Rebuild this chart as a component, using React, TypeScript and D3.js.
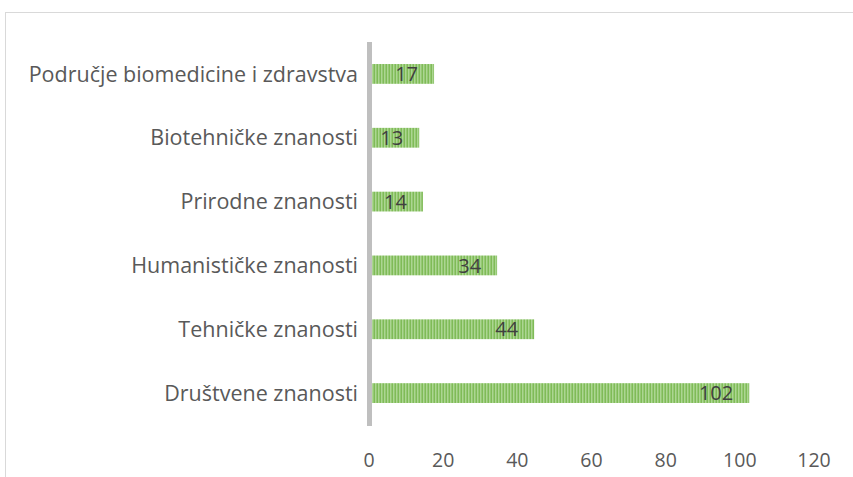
import React, { useEffect, useRef } from "react";
import * as d3 from "d3";

// categories top to bottom
const categories = [
  "Područje biomedicine i zdravstva",
  "Biotehničke znanosti",
  "Prirodne znanosti",
  "Humanističke znanosti",
  "Tehničke znanosti",
  "Društvene znanosti",
];
const values = [17, 13, 14, 34, 44, 102];
const ticks = [0, 20, 40, 60, 80, 100, 120];

const WIDTH = 853;
const HEIGHT = 477;

export default function App() {
  const svgRef = useRef<SVGSVGElement | null>(null);

  useEffect(() => {
    const root = d3.select(svgRef.current);
    root.selectAll("*").remove();

    const x = d3.scaleLinear().domain([0, 120]).range([371, 816]);
    const y = d3.scaleBand().domain(categories).range([42, 425]).paddingInner(0.69).paddingOuter(0.345);

    // stripe pattern like the Excel fill
    const defs = root.append("defs");
    const pat = defs
      .append("pattern")
      .attr("id", "stripes")
      .attr("patternUnits", "userSpaceOnUse")
      .attr("width", 3)
      .attr("height", 4);
    pat.append("rect").attr("width", 3).attr("height", 4).attr("fill", "#acd692");
    pat.append("rect").attr("x", 1.5).attr("width", 1.5).attr("height", 4).attr("fill", "#7fbb57");

    // chart border
    root
      .append("rect")
      .attr("x", 5.5)
      .attr("y", 12.5)
      .attr("width", WIDTH)
      .attr("height", HEIGHT)
      .attr("fill", "none")
      .attr("stroke", "#d9d9d9")
      .attr("stroke-width", 1);

    const font = "'Open Sans', 'Noto Sans', sans-serif";

    // bars
    root
      .append("g")
      .selectAll("rect")
      .data(values)
      .join("rect")
      .attr("x", x(0))
      .attr("y", (_, i) => y(categories[i])!)
      .attr("width", (d) => x(d) - x(0))
      .attr("height", y.bandwidth())
      .attr("fill", "url(#stripes)");

    // data labels
    root
      .append("g")
      .selectAll("text")
      .data(values)
      .join("text")
      .attr("x", (d) => x(d) - 16)
      .attr("y", (_, i) => y(categories[i])! + y.bandwidth() / 2)
      .attr("dy", "0.36em")
      .attr("text-anchor", "end")
      .attr("fill", "#404040")
      .style("font-family", font)
      .style("font-size", "20px")
      .text((d) => d);

    // vertical axis line
    root
      .append("line")
      .attr("x1", x(0) - 1.5)
      .attr("x2", x(0) - 1.5)
      .attr("y1", 42)
      .attr("y2", 426)
      .attr("stroke", "#bfbfbf")
      .attr("stroke-width", 5);

    // category labels
    root
      .append("g")
      .selectAll("text")
      .data(categories)
      .join("text")
      .attr("x", 358)
      .attr("y", (d) => y(d)! + y.bandwidth() / 2)
      .attr("dy", "0.36em")
      .attr("text-anchor", "end")
      .attr("fill", "#595959")
      .style("font-family", font)
      .style("font-size", "21.5px")
      .text((d) => d);

    // x tick labels
    root
      .append("g")
      .selectAll("text")
      .data(ticks)
      .join("text")
      .attr("x", (d) => x(d) - 2)
      .attr("y", 460)
      .attr("dy", "0.36em")
      .attr("text-anchor", "middle")
      .attr("fill", "#595959")
      .style("font-family", font)
      .style("font-size", "19.5px")
      .text((d) => d);
  }, []);

  return (
    <svg
      ref={svgRef}
      width={WIDTH}
      height={HEIGHT}
      style={{ position: "absolute", left: 0, top: 0, background: "#fff" }}
    />
  );
}
